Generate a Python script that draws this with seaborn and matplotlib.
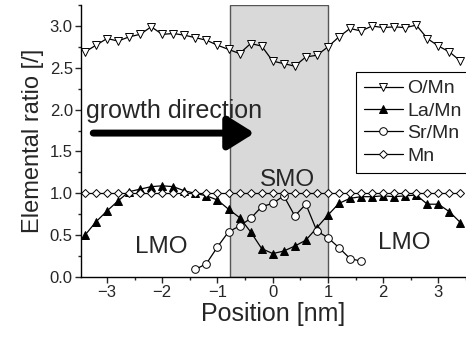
import numpy as np
import pandas as pd
import matplotlib
matplotlib.use("Agg")
import matplotlib.pyplot as plt
import seaborn as sns
from matplotlib.ticker import MultipleLocator, FormatStrFormatter

# ---- data (positions in nm, step 0.2) ----
pos_full = [round(-3.4 + 0.2 * i, 1) for i in range(35)]
o_mn = [2.69, 2.77, 2.85, 2.82, 2.87, 2.90, 2.99, 2.90, 2.91, 2.89, 2.86, 2.83,
        2.77, 2.72, 2.67, 2.79, 2.76, 2.58, 2.55, 2.52, 2.63, 2.65, 2.75, 2.87,
        2.97, 2.94, 3.00, 2.98, 2.99, 2.98, 3.01, 2.85, 2.76, 2.69, 2.58]
la_mn = [0.50, 0.66, 0.79, 0.91, 1.02, 1.05, 1.08, 1.09, 1.08, 1.03, 1.00, 0.97,
         0.92, 0.81, 0.71, 0.54, 0.34, 0.28, 0.31, 0.37, 0.44, 0.59, 0.74, 0.88,
         0.94, 0.96, 0.96, 0.97, 0.96, 0.97, 0.98, 0.87, 0.87, 0.78, 0.65]
mn = [1.0] * 35

pos_sr = [round(-1.4 + 0.2 * i, 1) for i in range(16)]
sr_mn = [0.09, 0.16, 0.36, 0.54, 0.61, 0.70, 0.84, 0.88, 0.97, 0.73, 0.87, 0.55,
         0.47, 0.35, 0.22, 0.19]

smo_span = (-0.78, 1.0)

sns.set_style("ticks")
plt.rcParams["font.family"] = ["Liberation Sans", "DejaVu Sans"]

fig = plt.figure(figsize=(4.66, 3.37), dpi=100)
ax = fig.add_axes([0.174, 0.178, 0.826, 0.807])

# SMO layer
ax.axvspan(*smo_span, facecolor="#d9d9d9", edgecolor="#555555", linewidth=1.0, zorder=0)

common = dict(color="black", linewidth=0.9, markeredgecolor="black", markeredgewidth=0.7)
sns.lineplot(x=pos_full, y=o_mn, ax=ax, marker="v", markersize=5.5,
             markerfacecolor="white", label="O/Mn", **common)
sns.lineplot(x=pos_full, y=la_mn, ax=ax, marker="^", markersize=5.5,
             markerfacecolor="black", label="La/Mn", **common)
sns.lineplot(x=pos_sr, y=sr_mn, ax=ax, marker="o", markersize=5.5,
             markerfacecolor="white", label="Sr/Mn", **common)
sns.lineplot(x=pos_full, y=mn, ax=ax, marker="D", markersize=4,
             markerfacecolor="white", label="Mn", **common)

ax.set_xlim(-3.47, 3.5)
ax.set_ylim(0, 3.25)
ax.xaxis.set_major_locator(MultipleLocator(1))
ax.xaxis.set_minor_locator(MultipleLocator(0.5))
ax.yaxis.set_major_locator(MultipleLocator(0.5))
ax.yaxis.set_minor_locator(MultipleLocator(0.25))
ax.yaxis.set_major_formatter(FormatStrFormatter("%.1f"))
ax.tick_params(which="major", direction="out", length=4, width=1, labelsize=12, pad=2)
ax.tick_params(which="minor", direction="out", length=2.5, width=1)
for s in ["top", "right"]:
    ax.spines[s].set_visible(False)
for s in ["left", "bottom"]:
    ax.spines[s].set_linewidth(1.0)
    ax.spines[s].set_color("black")

ax.set_xlabel("Position [nm]", fontsize=18, labelpad=1)
ax.set_ylabel("Elemental ratio [/]", fontsize=17, labelpad=4)

# annotations
ax.text(-3.38, 1.98, "growth direction", fontsize=18, va="center", ha="left")
ax.annotate("", xy=(-0.33, 1.72), xytext=(-3.25, 1.72),
            arrowprops=dict(arrowstyle="-|>,head_length=1.6,head_width=1.0",
                            color="black", linewidth=5, shrinkA=0, shrinkB=0))
ax.text(0.27, 1.16, "SMO", fontsize=17.5, ha="center", va="center")
ax.text(-2.02, 0.36, "LMO", fontsize=17.5, ha="center", va="center")
ax.text(2.39, 0.41, "LMO", fontsize=17.5, ha="center", va="center")

leg = ax.legend(loc="upper left", bbox_to_anchor=(0.714, 0.754), fontsize=14,
                frameon=True, fancybox=False, edgecolor="black", framealpha=1,
                handlelength=2.0, handletextpad=0.25, borderpad=0.4,
                labelspacing=0.25, borderaxespad=0)
leg.get_frame().set_linewidth(0.8)

fig.savefig("out.png", dpi=100)
